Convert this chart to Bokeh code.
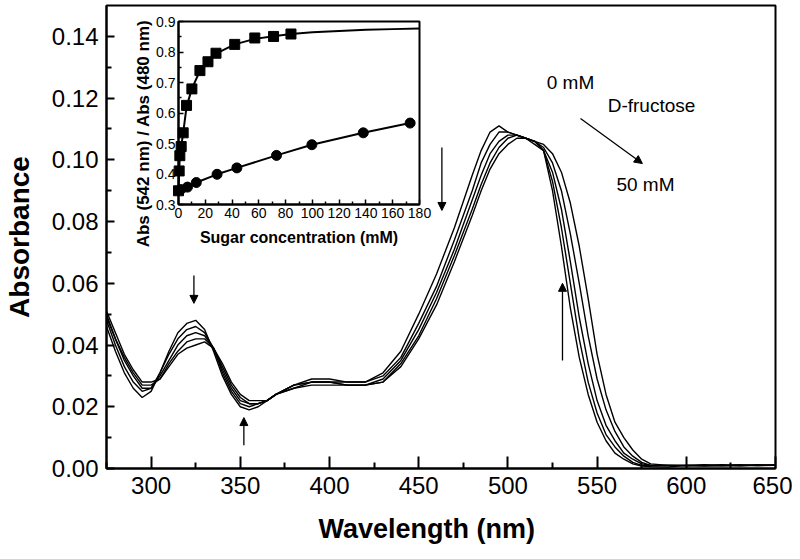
import math
from bokeh.plotting import figure
from bokeh.models import (Range1d, FixedTicker, Arrow, NormalHead, Label, NumeralTickFormatter,
                          LinearAxis, Title)
from bokeh.embed import file_html
from bokeh.resources import INLINE

# ---------------- data: main spectra ----------------
wavelength = [275, 280, 285, 290, 295, 300, 305, 310, 315, 320, 325, 330, 335, 340, 345, 350,
              355, 360, 365, 370, 380, 390, 400, 410, 420, 430, 440, 450, 460, 470, 480, 485,
              490, 495, 500, 505, 510, 515, 520, 525, 530, 535, 540, 545, 550, 555, 560, 565,
              570, 575, 580, 590, 600, 610, 620, 630, 640, 650]

abs_0mM = [0.046, 0.038, 0.031, 0.026, 0.023, 0.025, 0.031, 0.038, 0.044, 0.047, 0.048, 0.045, 0.038, 0.030, 0.024, 0.020,
           0.019, 0.020, 0.022, 0.024, 0.027, 0.029, 0.029, 0.028, 0.028, 0.031, 0.038, 0.050, 0.063, 0.078, 0.095, 0.103,
           0.109, 0.111, 0.109, 0.108, 0.107, 0.106, 0.103, 0.090, 0.072, 0.052, 0.036, 0.024, 0.015, 0.009, 0.005, 0.003,
           0.0015, 0.0008, 0.0006, 0.0005, 0.001, 0.0008, 0.001, 0.0012, 0.0009, 0.001]
abs_s1 = [0.048, 0.040, 0.033, 0.028, 0.025, 0.026, 0.031, 0.037, 0.042, 0.045, 0.046, 0.044, 0.039, 0.031, 0.025, 0.021,
          0.020, 0.021, 0.022, 0.024, 0.027, 0.028, 0.028, 0.028, 0.028, 0.030, 0.036, 0.047, 0.059, 0.074, 0.090, 0.099,
          0.105, 0.109, 0.109, 0.108, 0.107, 0.105, 0.103, 0.093, 0.078, 0.060, 0.042, 0.028, 0.018, 0.011, 0.007, 0.004,
          0.002, 0.001, 0.0008, 0.001, 0.0008, 0.001, 0.0012, 0.0009, 0.0011, 0.001]
abs_s2 = [0.050, 0.042, 0.035, 0.030, 0.026, 0.026, 0.030, 0.035, 0.040, 0.043, 0.044, 0.043, 0.039, 0.032, 0.026, 0.022,
          0.021, 0.021, 0.022, 0.024, 0.027, 0.028, 0.028, 0.027, 0.027, 0.029, 0.035, 0.045, 0.057, 0.071, 0.087, 0.095,
          0.102, 0.106, 0.108, 0.108, 0.107, 0.106, 0.103, 0.096, 0.084, 0.067, 0.049, 0.034, 0.022, 0.014, 0.009, 0.005,
          0.003, 0.0015, 0.001, 0.001, 0.001, 0.0009, 0.001, 0.0011, 0.001, 0.0012]
abs_s3 = [0.049, 0.042, 0.036, 0.031, 0.027, 0.027, 0.029, 0.034, 0.038, 0.041, 0.042, 0.042, 0.039, 0.033, 0.027, 0.023,
          0.021, 0.021, 0.022, 0.024, 0.026, 0.028, 0.028, 0.027, 0.027, 0.028, 0.034, 0.043, 0.055, 0.069, 0.084, 0.092,
          0.099, 0.104, 0.107, 0.108, 0.107, 0.106, 0.104, 0.099, 0.090, 0.076, 0.060, 0.043, 0.029, 0.019, 0.012, 0.007,
          0.004, 0.002, 0.001, 0.001, 0.001, 0.001, 0.0008, 0.001, 0.0012, 0.001]
abs_50mM = [0.051, 0.044, 0.037, 0.032, 0.028, 0.028, 0.029, 0.033, 0.037, 0.039, 0.040, 0.041, 0.039, 0.034, 0.028, 0.024,
            0.022, 0.022, 0.022, 0.024, 0.026, 0.027, 0.027, 0.027, 0.027, 0.028, 0.033, 0.042, 0.053, 0.067, 0.082, 0.090,
            0.097, 0.102, 0.105, 0.107, 0.107, 0.106, 0.105, 0.102, 0.096, 0.086, 0.072, 0.055, 0.037, 0.024, 0.015, 0.010,
            0.006, 0.003, 0.0015, 0.001, 0.001, 0.0012, 0.001, 0.0009, 0.001, 0.0011]
spectra = [abs_0mM, abs_s1, abs_s2, abs_s3, abs_50mM]

x_major = [300, 350, 400, 450, 500, 550, 600, 650]
x_minor = [275, 325, 375, 425, 475, 525, 575, 625]
y_major = [0.00, 0.02, 0.04, 0.06, 0.08, 0.10, 0.12, 0.14]
y_minor = [0.01, 0.03, 0.05, 0.07, 0.09, 0.11, 0.13]

# ---------------- data: inset ----------------
conc_sq = [0, 0.5, 1, 2, 3.5, 6, 10, 16, 22, 28, 42, 57, 71, 84]
ratio_sq = [0.345, 0.41, 0.46, 0.49, 0.535, 0.625, 0.679, 0.739, 0.768, 0.796, 0.825, 0.846, 0.851, 0.859]
conc_sq_fit = [0, 0.5, 1, 2, 3.5, 6, 10, 16, 22, 28, 42, 57, 71, 84, 100, 120, 140, 160, 180]
ratio_sq_fit = [0.345, 0.41, 0.46, 0.49, 0.535, 0.62, 0.68, 0.738, 0.77, 0.795, 0.825, 0.843, 0.852, 0.859,
                0.865, 0.869, 0.873, 0.875, 0.877]
conc_ci = [1.7, 6.7, 13.3, 28.8, 43.6, 73.2, 99.6, 138, 173]
ratio_ci = [0.349, 0.357, 0.372, 0.399, 0.420, 0.461, 0.496, 0.535, 0.567]
ix_major = [0, 20, 40, 60, 80, 100, 120, 140, 160, 180]
ix_minor = [10, 30, 50, 70, 90, 110, 130, 150, 170]
iy_major = [0.3, 0.4, 0.5, 0.6, 0.7, 0.8, 0.9]
iy_minor = [0.35, 0.45, 0.55, 0.65, 0.75, 0.85]
ix_lim = (0, 180)
iy_lim = (0.3, 0.9)

FONT = "Liberation Sans"

# ---------------- layout constants (pixels) ----------------
FRAME_W, FRAME_H = 669, 463
BL, BT, BR, BB = 106, 5, 17, 90
X_LIM = (275, 650)
Y_LIM = (0, 0.15)
# inset frame, pixels relative to main frame's left/top
IN_L, IN_R, IN_T, IN_B = 72, 313, 16, 199

p = figure(width=BL + FRAME_W + BR, height=BT + FRAME_H + BB,
           x_range=Range1d(*X_LIM), y_range=Range1d(*Y_LIM),
           output_backend="svg", toolbar_location=None,
           min_border_left=BL, min_border_right=BR, min_border_top=BT, min_border_bottom=BB)
p.grid.visible = False
p.outline_line_color = "black"
p.outline_line_width = 2
p.background_fill_color = "white"
p.border_fill_color = "white"

for s in spectra:
    p.line(wavelength, s, line_color="black", line_width=1.4)

for ax in (p.xaxis[0], p.yaxis[0]):
    ax.axis_line_width = 2
    ax.major_tick_line_width = 2
    ax.minor_tick_line_width = 2
    ax.major_tick_out = 0
    ax.minor_tick_out = 0
    ax.major_label_text_font = FONT
    ax.major_label_text_font_size = "24px"
    ax.major_label_text_color = "black"

p.xaxis.ticker = FixedTicker(ticks=x_major, minor_ticks=x_minor)
p.xaxis.major_tick_in = 12
p.xaxis.minor_tick_in = 6
p.xaxis.major_label_standoff = 8

p.yaxis.ticker = FixedTicker(ticks=y_major, minor_ticks=y_minor)
p.yaxis.formatter = NumeralTickFormatter(format="0.00")
p.yaxis.major_tick_in = 8
p.yaxis.minor_tick_in = 5
p.yaxis.major_label_standoff = 8
p.yaxis.axis_label = "Absorbance"
p.yaxis.axis_label_text_font = FONT
p.yaxis.axis_label_text_font_style = "bold"
p.yaxis.axis_label_text_font_size = "28px"
p.yaxis.axis_label_text_color = "black"
p.yaxis.axis_label_standoff = 14

# x-axis title placed a little left of the frame centre, as in the original
p.add_layout(Title(text="Wavelength (nm)", align="left", offset=212, standoff=30,
                   text_font=FONT, text_font_style="bold", text_font_size="27px",
                   text_color="black"), "below")

# arrows
arrow_x0 = [324, 352, 463, 530.6, 540.7]
arrow_y0 = [0.0625, 0.0075, 0.104, 0.035, 0.1134]
arrow_x1 = [324, 352, 463, 530.6, 575.4]
arrow_y1 = [0.0535, 0.0165, 0.0836, 0.0600, 0.0988]
for xs, ys, xe, ye in zip(arrow_x0, arrow_y0, arrow_x1, arrow_y1):
    p.add_layout(Arrow(end=NormalHead(size=8, fill_color="black", line_color="black"),
                       x_start=xs, y_start=ys, x_end=xe, y_end=ye,
                       line_color="black", line_width=1.3))

label_text = ["0 mM", "D-fructose", "50 mM"]
label_x = [535.1, 580.5, 577.1]
label_y = [0.1250, 0.1176, 0.0920]
for t, lx, ly in zip(label_text, label_x, label_y):
    p.add_layout(Label(x=lx, y=ly, text=t, text_align="center", text_baseline="middle",
                       text_font=FONT, text_font_size="19px", text_color="black"))

# ---------------- inset drawn on extra ranges ----------------
xs_per_px = (ix_lim[1] - ix_lim[0]) / (IN_R - IN_L)
ys_per_px = (iy_lim[1] - iy_lim[0]) / (IN_B - IN_T)
p.extra_x_ranges = {"ix": Range1d(ix_lim[0] - IN_L * xs_per_px,
                                  ix_lim[1] + (FRAME_W - IN_R) * xs_per_px)}
p.extra_y_ranges = {"iy": Range1d(iy_lim[0] - (FRAME_H - IN_B) * ys_per_px,
                                  iy_lim[1] + IN_T * ys_per_px)}

p.quad(left=[ix_lim[0]], right=[ix_lim[1]], bottom=[iy_lim[0]], top=[iy_lim[1]],
       x_range_name="ix", y_range_name="iy",
       fill_color="white", line_color="black", line_width=2)
p.line(conc_sq_fit, ratio_sq_fit, x_range_name="ix", y_range_name="iy", line_color="black", line_width=2)
p.scatter(conc_sq, ratio_sq, x_range_name="ix", y_range_name="iy", marker="square", size=10,
          fill_color="black", line_color="black")
p.line(conc_ci, ratio_ci, x_range_name="ix", y_range_name="iy", line_color="black", line_width=2)
p.scatter(conc_ci, ratio_ci, x_range_name="ix", y_range_name="iy", marker="circle", size=10,
          fill_color="black", line_color="black")

iax = LinearAxis(x_range_name="ix", y_range_name="iy", fixed_location=iy_lim[0], bounds=ix_lim,
                 ticker=FixedTicker(ticks=ix_major, minor_ticks=ix_minor),
                 axis_label="Sugar concentration (mM)")
iay = LinearAxis(x_range_name="ix", y_range_name="iy", fixed_location=ix_lim[0], bounds=iy_lim,
                 ticker=FixedTicker(ticks=iy_major, minor_ticks=iy_minor),
                 formatter=NumeralTickFormatter(format="0.0"))
for ax in (iax, iay):
    ax.axis_line_width = 2
    ax.major_tick_line_width = 1.5
    ax.minor_tick_line_width = 1.5
    ax.major_tick_out = 0
    ax.minor_tick_out = 0
    ax.major_tick_in = 5
    ax.minor_tick_in = 3
    ax.major_label_standoff = 3
    ax.major_label_text_font = FONT
    ax.major_label_text_font_size = "14px"
    ax.major_label_text_color = "black"
    ax.axis_label_text_font = FONT
    ax.axis_label_text_font_style = "bold"
    ax.axis_label_text_font_size = "16px"
    ax.axis_label_text_color = "black"
    ax.axis_label_standoff = 8
p.add_layout(iax, "below")
p.add_layout(iay, "left")

# inset y title, centred slightly below the inset frame centre as in the original
ilx = ix_lim[0] - (178 - 143) * xs_per_px
ily = iy_lim[1] - (133 - (BT + IN_T)) * ys_per_px
p.add_layout(Label(x=ilx, y=ily, x_range_name="ix", y_range_name="iy",
                   text="Abs (542 nm) / Abs (480 nm)", angle=math.pi / 2,
                   text_align="center", text_baseline="middle", text_font=FONT,
                   text_font_style="bold", text_font_size="17px", text_color="black"))

open("out.html", "w").write(file_html(p, INLINE))
